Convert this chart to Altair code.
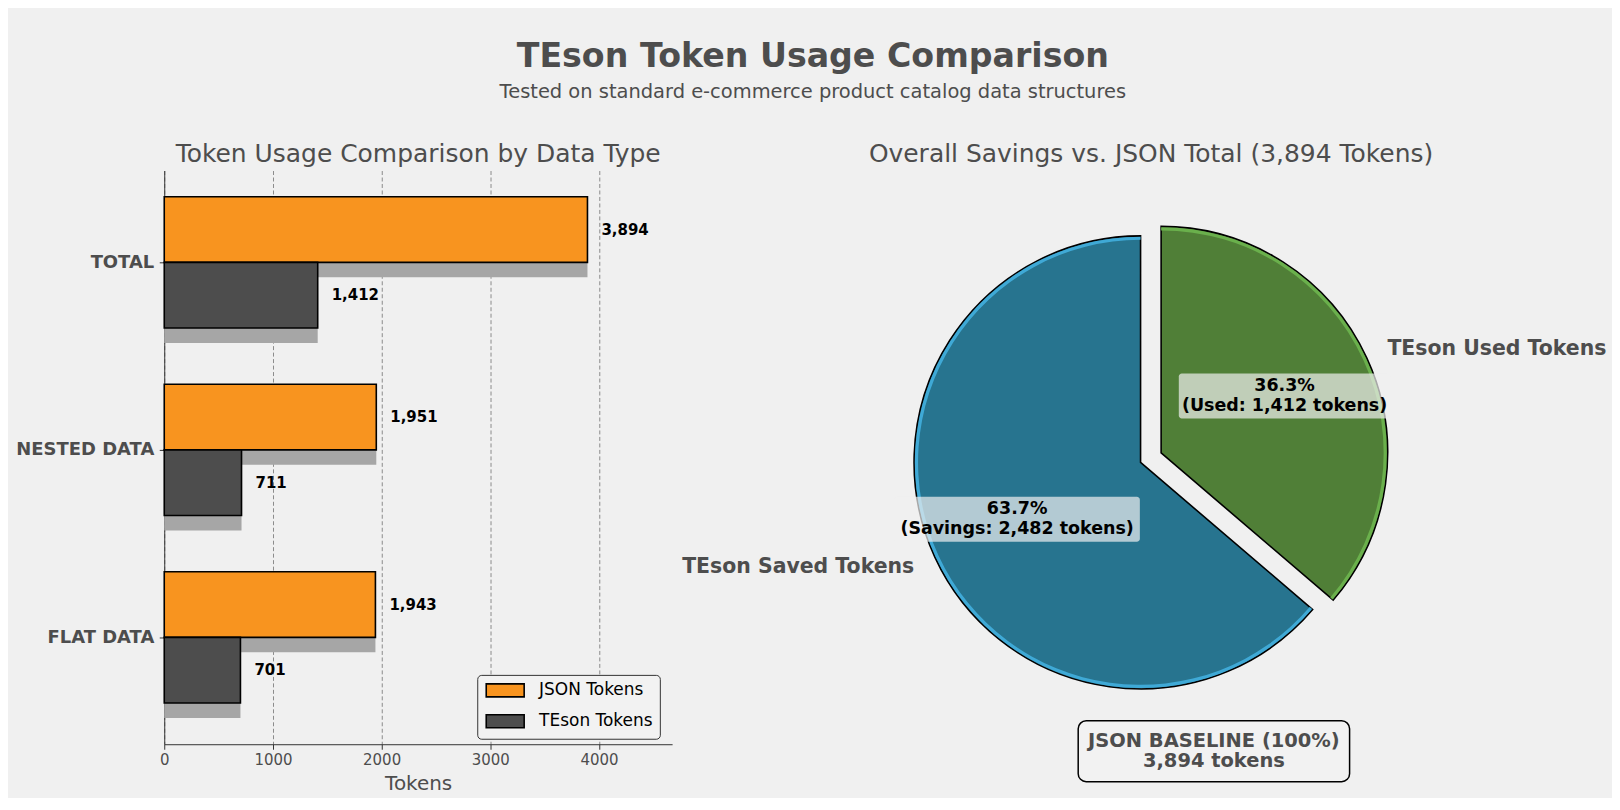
import json
import numpy as np
import pandas as pd
import altair as alt

# values
categories = ["FLAT DATA", "NESTED DATA", "TOTAL"]
json_tokens = [1943, 1951, 3894]
teson_tokens = [701, 711, 1412]
series_names = ["JSON Tokens", "TEson Tokens"]
x_ticks = [0, 1000, 2000, 3000, 4000]

pie_names = ["TEson Used Tokens", "TEson Saved Tokens"]
pie_tokens = [1412, 2482]
pie_tags = ["Used", "Savings"]
pie_explode = [0.1, 0.0]
json_total = 3894

# styles / layout
FONT = "DejaVu Sans"
BG = "#F0F0F0"
INK = "#4D4D4D"
ORANGE = "#F8941F"
DARK = "#4D4D4D"
SHADOW = "#A6A6A6"
BLUE, BLUE_RIM = "#27748F", "#3FA9D6"
GREEN, GREEN_RIM = "#507F37", "#6AB04C"

BAR_W, BAR_H = 509, 575
HALF = 0.35                      # bar thickness, category units
PIE_W, PIE_H = 920, 575
R = 227                          # pie radius in px
CX, CY = 449.5, 292.5            # pie centre inside the right panel, px
BOX_W = {"TEson Used Tokens": 212, "TEson Saved Tokens": 246}
BOX_H = 45
NOTE_X, NOTE_Y, NOTE_W, NOTE_H = 523, 582, 272, 61
LINE_H = 20.5

# ---- left panel: grouped horizontal bars
rows = []
for i, cat in enumerate(categories):
    rows.append({"cat": cat, "series": series_names[0], "tokens": json_tokens[i], "y0": i, "y1": i + HALF})
    rows.append({"cat": cat, "series": series_names[1], "tokens": teson_tokens[i], "y0": i - HALF, "y1": i})
bars = pd.DataFrame(rows)
bars["ymid"] = (bars["y0"] + bars["y1"]) / 2

xs = alt.Scale(domain=[0, max(json_tokens) * 1.2], nice=False)
ys = alt.Scale(domain=[-0.57, 2.49], nice=False, zero=False)
x_axis = alt.Axis(
    values=x_ticks, format="d", title="Tokens", labelFlush=False,
    grid=True, gridDash=[4, 2.5], gridColor="#7F7F7F", gridWidth=0.9,
    labelFont=FONT, labelFontSize=15, labelColor=INK, labelPadding=3,
    titleFont=FONT, titleFontSize=20, titleFontWeight="normal", titleColor=INK, titlePadding=6,
    tickSize=5, tickColor="#333333", domainColor="#333333",
)
y_axis = alt.Axis(
    values=list(range(len(categories))),
    labelExpr=json.dumps(categories) + "[datum.value]",
    title=None, grid=False,
    labelFont=FONT, labelFontSize=18, labelFontWeight="bold", labelColor=INK, labelPadding=5.5,
    tickSize=5, tickColor="#333333", domainColor="#333333",
)

base = alt.Chart(bars).encode(
    x=alt.X("tokens:Q", scale=xs, axis=x_axis),
    x2=alt.X2(datum=0),
    y=alt.Y("y0:Q", scale=ys, axis=y_axis),
    y2=alt.Y2("y1"),
)
shadow = base.mark_rect(color=SHADOW, yOffset=15, y2Offset=15)
bar = base.mark_rect(stroke="black", strokeWidth=1.6).encode(
    color=alt.Color(
        "series:N",
        scale=alt.Scale(domain=series_names, range=[ORANGE, DARK]),
        legend=alt.Legend(
            title=None, orient="none", legendX=313.7, legendY=505.5,
            symbolType="M-1,-1L4.85,-1L4.85,1L-1,1Z", symbolSize=169,
            symbolStrokeColor="black", symbolStrokeWidth=1.6, symbolOpacity=1,
            labelFont=FONT, labelFontSize=17, labelColor="black", labelOffset=38, rowPadding=10,
            padding=7, strokeColor="#333333", cornerRadius=4, fillColor="#F2F2F2",
        ),
    )
)
values = alt.Chart(bars).mark_text(
    align="left", baseline="middle", dx=14, fontSize=15, fontWeight="bold", color="black"
).encode(
    x=alt.X("tokens:Q", scale=xs, axis=x_axis),
    y=alt.Y("ymid:Q", scale=ys, axis=y_axis),
    text=alt.Text("tokens:Q", format=",d"),
)
left = alt.layer(shadow, bar, values).properties(
    width=BAR_W, height=BAR_H,
    title=alt.TitleParams("Token Usage Comparison by Data Type", font=FONT, fontSize=25,
                          fontWeight="normal", color=INK, offset=3.5),
)

# ---- right panel: exploded pie
edges = np.concatenate([[0], np.cumsum(pie_tokens)]) / json_total * 2 * np.pi
pie = pd.DataFrame({"name": pie_names, "tokens": pie_tokens, "tag": pie_tags, "explode": pie_explode})
pie["t0"] = edges[:-1]
pie["t1"] = edges[1:]
mid = (pie["t0"] + pie["t1"]) / 2
pie["cx"] = pie["explode"] * np.sin(mid)
pie["cy"] = pie["explode"] * np.cos(mid)
pie["px"] = pie["cx"] + 0.6 * np.sin(mid)
pie["py"] = pie["cy"] + 0.6 * np.cos(mid)
pie["lx"] = pie["cx"] + 1.1 * np.sin(mid)
pie["ly"] = pie["cy"] + 1.1 * np.cos(mid)
pie["side"] = np.where(np.sin(mid) >= 0, "right", "left")
pie["pct"] = [f"{v / json_total * 100:.1f}%\n({t}: {v:,} tokens)" for v, t in zip(pie_tokens, pie_tags)]
half_w = pie["name"].map(BOX_W) / 2 / R
pie["bx0"], pie["bx1"] = pie["px"] - half_w, pie["px"] + half_w
pie["by0"], pie["by1"] = pie["py"] - BOX_H / 2 / R, pie["py"] + BOX_H / 2 / R

xps = alt.Scale(domain=[-CX / R, (PIE_W - CX) / R], nice=False, zero=False)
yps = alt.Scale(domain=[-(PIE_H - CY) / R, CY / R], nice=False, zero=False)

pbase = alt.Chart(pie).encode(
    x=alt.X("cx:Q", scale=xps, axis=None),
    y=alt.Y("cy:Q", scale=yps, axis=None),
    theta=alt.Theta("t0:Q", scale=None, stack=False),
    theta2=alt.Theta2("t1"),
)
arcs = pbase.mark_arc(radius=R, stroke="black", strokeWidth=1.6).encode(
    color=alt.Color("name:N", scale=alt.Scale(domain=pie_names, range=[GREEN, BLUE]), legend=None)
)
rims = pbase.mark_arc(radius=R - 0.8, innerRadius=R - 4).encode(
    fill=alt.Fill("name:N", scale=alt.Scale(domain=pie_names, range=[GREEN_RIM, BLUE_RIM]), legend=None)
)
boxes = alt.Chart(pie).mark_rect(color=BG, opacity=0.7, cornerRadius=3).encode(
    x=alt.X("bx0:Q", scale=xps, axis=None), x2=alt.X2("bx1"),
    y=alt.Y("by0:Q", scale=yps, axis=None), y2=alt.Y2("by1"),
)
pct = alt.Chart(pie).mark_text(
    lineBreak="\n", fontSize=17.5, fontWeight="bold", color="black",
    lineHeight=LINE_H, align="center", baseline="middle", dy=-LINE_H / 2,
).encode(
    x=alt.X("px:Q", scale=xps, axis=None),
    y=alt.Y("py:Q", scale=yps, axis=None),
    text="pct:N",
)
outer = [
    alt.Chart(pie).transform_filter(alt.datum.side == side).mark_text(
        align=align, baseline="middle", fontSize=20.5, fontWeight="bold", color=INK
    ).encode(
        x=alt.X("lx:Q", scale=xps, axis=None),
        y=alt.Y("ly:Q", scale=yps, axis=None),
        text="name:N",
    )
    for side, align in (("right", "left"), ("left", "right"))
]

note = pd.DataFrame({
    "text": [f"JSON BASELINE (100%)\n{json_total:,} tokens"],
    "x": [(NOTE_X - CX) / R], "y": [(CY - NOTE_Y) / R],
})
note["x0"], note["x1"] = note["x"] - NOTE_W / 2 / R, note["x"] + NOTE_W / 2 / R
note["y0"], note["y1"] = note["y"] - NOTE_H / 2 / R, note["y"] + NOTE_H / 2 / R
note_box = alt.Chart(note).mark_rect(fill="#F2F2F2", stroke="black", strokeWidth=1.5, cornerRadius=8).encode(
    x=alt.X("x0:Q", scale=xps, axis=None), x2=alt.X2("x1"),
    y=alt.Y("y0:Q", scale=yps, axis=None), y2=alt.Y2("y1"),
)
note_text = alt.Chart(note).mark_text(
    lineBreak="\n", fontSize=19.5, fontWeight="bold", color=INK, lineHeight=LINE_H,
    align="center", baseline="middle", dy=-LINE_H / 2,
).encode(
    x=alt.X("x:Q", scale=xps, axis=None),
    y=alt.Y("y:Q", scale=yps, axis=None),
    text="text:N",
)

right = alt.layer(arcs, rims, boxes, pct, *outer, note_box, note_text).properties(
    width=PIE_W, height=PIE_H,
    title=alt.TitleParams(f"Overall Savings vs. JSON Total ({json_total:,} Tokens)", font=FONT,
                          fontSize=25, fontWeight="normal", color=INK, offset=3.5),
)

chart = alt.hconcat(left, right, spacing=20, bounds="flush").resolve_scale(
    color="independent", fill="independent"
).resolve_legend(color="independent", fill="independent").properties(
    background=BG,
    padding={"left": 7.6, "top": 31, "right": 2, "bottom": 4},
    title=alt.TitleParams(
        "TEson Token Usage Comparison",
        subtitle="Tested on standard e-commerce product catalog data structures",
        font=FONT, subtitleFont=FONT,
        fontSize=33.3, fontWeight="bold", color=INK,
        subtitleFontSize=19.5, subtitleColor=INK, subtitlePadding=8,
        offset=40, anchor="middle",
    ),
).configure(font=FONT).configure_view(stroke=None)

chart.save("out.html", embed_options={"renderer": "svg", "actions": False})
